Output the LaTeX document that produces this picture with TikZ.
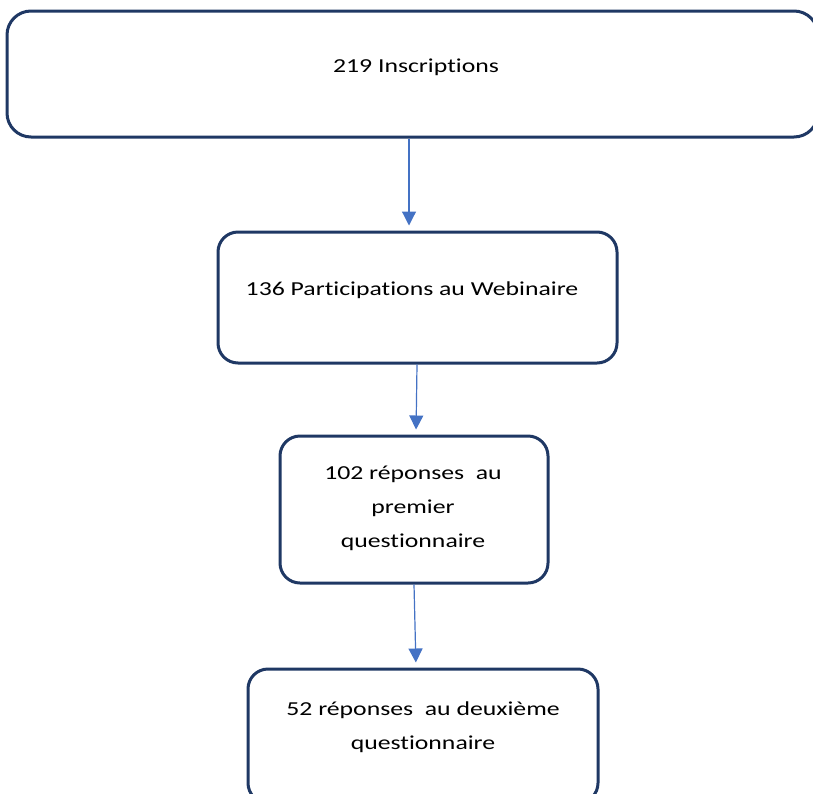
\documentclass[tikz,border=0pt]{standalone}
\usepackage{fontspec}
\setmainfont{Carlito}[FakeStretch=1.3, Ligatures=NoCommon]
\usetikzlibrary{arrows.meta}
\definecolor{boxblue}{RGB}{31,56,100}
\definecolor{flowblue}{RGB}{68,114,196}

\begin{document}
\begin{tikzpicture}[x=0.5pt, y=-0.5pt,
    box/.style={draw=boxblue, line width=1.5pt, rounded corners=10pt, fill=white, inner sep=0pt},
    lbl/.style={align=center, font=\fontsize{9.9}{17}\selectfont, anchor=base},
    flow/.style={draw=flowblue, line width=0.6pt, -{Triangle[width=7pt,length=7pt]}, shorten >=2.5pt}]
  \useasboundingbox (0,0) rectangle (813,793);
  \clip (0,0) rectangle (813,793);
  % boxes
  \node[box, rounded corners=12pt, minimum width=405.5pt, minimum height=63pt] (insc) at (412.5,74) {};
  \node[box, minimum width=199.5pt, minimum height=65.5pt] (part) at (417.5,297.5) {};
  \node[box, minimum width=134pt, minimum height=73.5pt] (prem) at (414,509.5) {};
  \node[box, minimum width=175pt, minimum height=67pt] (deux) at (423,736) {};
  % texts (base = last line)
  \node[lbl] (insc-txt) at (416,72) {219 Inscriptions};
  \node[lbl] (part-txt) at (412,295.5) {136 Participations au Webinaire};
  \node[lbl] (prem-txt) at (413,547.5) {102 réponses~ au\\premier\\questionnaire};
  \node[lbl] (deux-txt) at (423,749) {52 réponses~ au deuxième\\questionnaire};
  % arrows
  \draw[flow] ([xshift=-1.75pt]insc.south) -- ([xshift=-4.25pt]part.north);
  \draw[flow] ([xshift=-0.25pt]part.south) -- ([xshift=1pt]prem.north);
  \draw[flow] (prem.south) -- ([xshift=-3.5pt]deux.north);
\end{tikzpicture}
\end{document}
